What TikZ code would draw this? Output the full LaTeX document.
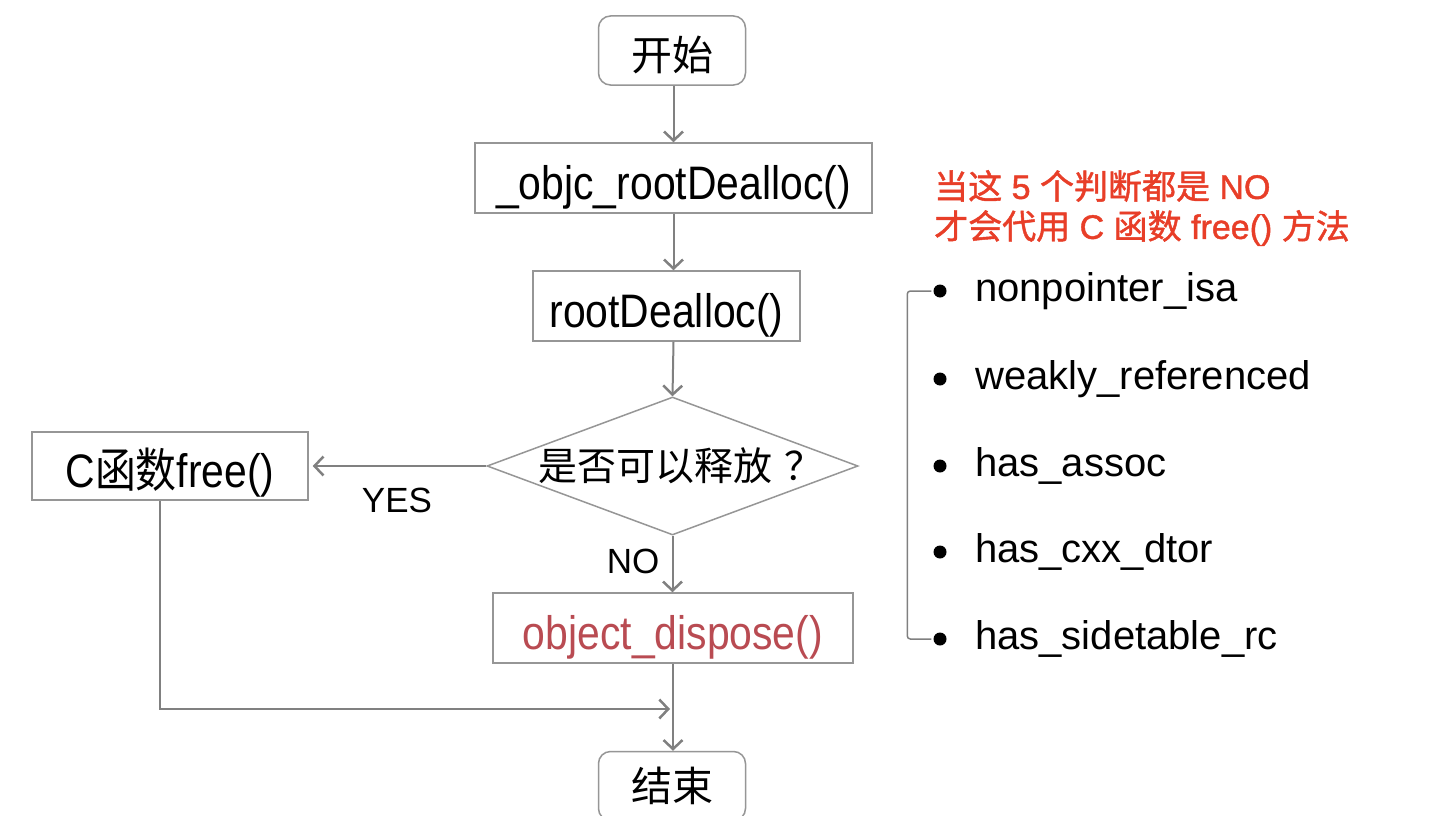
\documentclass[tikz,border=0pt]{standalone}
\usepackage{fontspec}
\setmainfont{Liberation Sans}
\newfontfamily\cjk{Noto Sans CJK SC}
\newfontfamily\narrow[FakeStretch=0.87]{Liberation Sans}
\newfontfamily\cjknarrow[FakeStretch=0.87]{Noto Sans CJK SC}
\newfontfamily\cjkbold[FakeBold=1.3]{Noto Sans CJK SC}
\newfontfamily\latbold[FakeBold=1.3]{Liberation Sans}
\usetikzlibrary{shapes.geometric,arrows.meta}
\definecolor{linegrey}{RGB}{128,128,128}
\definecolor{boxgrey}{RGB}{150,150,150}
\definecolor{redtxt}{RGB}{232,62,40}
\definecolor{disposered}{RGB}{185,75,82}
\tikzset{
  fbox/.style={draw=boxgrey, line width=1.5pt, inner sep=0pt, font=\narrow\fontsize{47}{54}\selectfont, text height=45pt, text depth=2pt},
  rbox/.style={draw=boxgrey, line width=1.5pt, inner sep=0pt, rounded corners=12pt, font=\cjk\fontsize{41}{48}\selectfont},
  arr/.style={draw=linegrey, line width=2pt, -{Straight Barb[length=9pt,width=19pt,line width=2.5pt]}},
  plain/.style={draw=linegrey, line width=1.5pt},
  lbl/.style={font=\fontsize{35}{40}\selectfont, inner sep=0pt},
  item/.style={font=\fontsize{40}{48}\selectfont, anchor=west, inner sep=0pt},
  dot/.style={circle, fill=black, inner sep=0pt, minimum size=13pt},
  redline/.style={font=\latbold\fontsize{34}{40}\selectfont, text=redtxt, anchor=west, inner sep=0pt}
}
\begin{document}
\begin{tikzpicture}[x=1pt,y=-1pt]
\useasboundingbox (0,0) rectangle (1456,816);
\fill[white] (0,0) rectangle (1456,816);
% flowchart
\node[rbox, minimum width=147pt, minimum height=69pt, text height=42pt, text depth=2pt] (start) at (672,50.5) {开始};
\node[fbox, minimum width=397pt, minimum height=70pt] (objc) at (673.5,178) {\_objc\_rootDealloc()};
\node[fbox, minimum width=267pt, minimum height=70pt] (root) at (666.5,306) {rootDealloc()};
\node[draw=boxgrey, line width=1.5pt, shape=diamond, inner sep=0pt, minimum width=371pt, minimum height=138pt] (dec) at (672.5,466) {};
\node[inner sep=0pt, font=\cjk\fontsize{39}{46}\selectfont] (dectxt) at (681,466) {是否可以释放\hspace{12pt}？};
\node[fbox, minimum width=276pt, minimum height=68pt] (free) at (170,466) {C{\cjknarrow 函数}free()};
\node[fbox, minimum width=360pt, minimum height=70pt, text=disposered] (disp) at (673,628) {object\_dispose()};
\node[rbox, minimum width=147pt, minimum height=69pt] (end) at (672,786) {结束};
\coordinate (join) at (673,709);
\node[lbl] (yes) at (397,500) {YES};
\node[lbl] (no) at (633,561) {NO};
\draw[arr] (start.south -| objc.south) -- (objc.south |- objc.north);
\draw[arr] (objc.south) -- (objc.south |- root.north);
\draw[arr] (objc.south |- root.south) -- (dec.north);
\draw[arr, shorten >=4pt] (dec.west) -- (free.east);
\draw[arr] (dec.south) -- (dec.south |- disp.north);
\draw[arr] (disp.south) -- (disp.south |- end.north);
\draw[arr, line width=1.5pt] ([xshift=-10pt]free.south) |- ([xshift=-3pt]join);
% right side
\node[redline] (r1) at (934,186) {{\cjkbold 当这} 5 {\cjkbold 个判断都是} NO};
\node[redline] (r2) at (934,228) {{\cjkbold 才会代用} C {\cjkbold 函数} free() {\cjkbold 方法}};
\node[dot] (b1) at (940,291) {};
\node[dot] (b2) at (940,379) {};
\node[dot] (b3) at (940,466) {};
\node[dot] (b4) at (940,552) {};
\node[dot] (b5) at (940,639) {};
\node[item] (t1) at (975,291) {nonpointer\_isa};
\node[item] (t2) at (975,379) {weakly\_referenced};
\node[item] (t3) at (975,466) {has\_assoc};
\node[item] (t4) at (975,552) {has\_cxx\_dtor};
\node[item] (t5) at (975,639) {has\_sidetable\_rc};
\draw[plain, rounded corners=3pt] ([xshift=-2pt]b1.west) -- ++(-24pt,0) |- ([xshift=-2pt]b5.west);
\end{tikzpicture}
\end{document}
